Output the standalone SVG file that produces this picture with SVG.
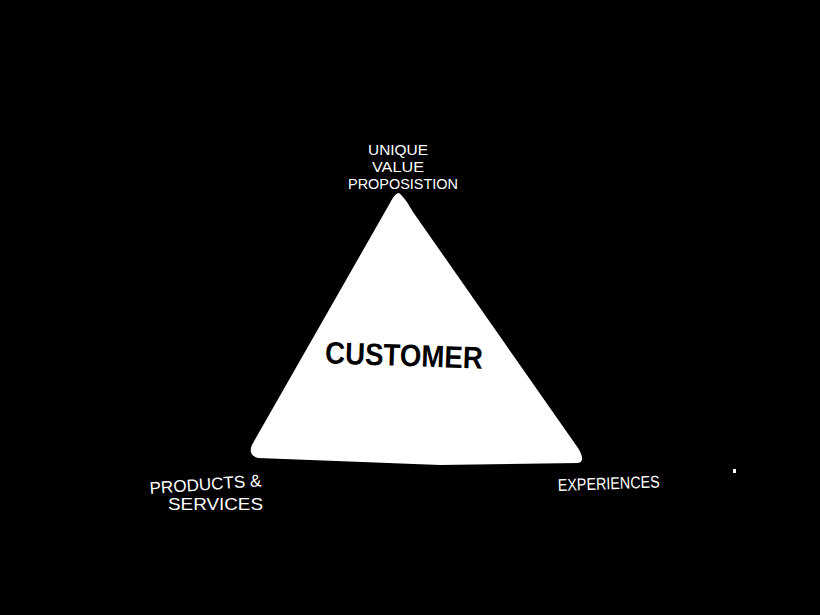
<svg xmlns="http://www.w3.org/2000/svg" width="820" height="615" viewBox="0 0 820 615">
<style>
.lbl{font-family:"Liberation Sans",Arial,sans-serif;font-size:17px;fill:#fff}
.top{font-size:15px}
.main{font-family:"Liberation Sans",Arial,sans-serif;font-size:31px;font-weight:bold;fill:#000}
</style>
<rect width="820" height="615" fill="#000"/>
<g id="triangle">
<path d="M399,193 C403,196 408,203 413,212 L578,448 C583,456 584,462 578,463 L440,465 L258,458 C250,456 249,450 253,443 L390,203 C393,197 396,193 399,193 Z" fill="#fff"/>
<text class="main" x="325" y="366" textLength="158" lengthAdjust="spacingAndGlyphs" transform="rotate(2 404 355)">CUSTOMER</text>
</g>
<g id="apex-label">
<text class="lbl top" x="368" y="155" textLength="60" lengthAdjust="spacingAndGlyphs">UNIQUE</text>
<text class="lbl top" x="372" y="172" textLength="52" lengthAdjust="spacingAndGlyphs">VALUE</text>
<text class="lbl top" x="348" y="189" textLength="110" lengthAdjust="spacingAndGlyphs">PROPOSISTION</text>
</g>
<g id="left-label">
<text class="lbl" x="150" y="494" textLength="112" lengthAdjust="spacingAndGlyphs" transform="rotate(-4 150 494)">PRODUCTS &amp;</text>
<text class="lbl" x="168" y="510" textLength="95" lengthAdjust="spacingAndGlyphs">SERVICES</text>
</g>
<g id="right-label">
<text class="lbl" x="558" y="491" textLength="102" lengthAdjust="spacingAndGlyphs" transform="rotate(-2 558 491)">EXPERIENCES</text>
</g>
<rect x="733" y="469" width="3" height="4" fill="#fff"/>
</svg>
